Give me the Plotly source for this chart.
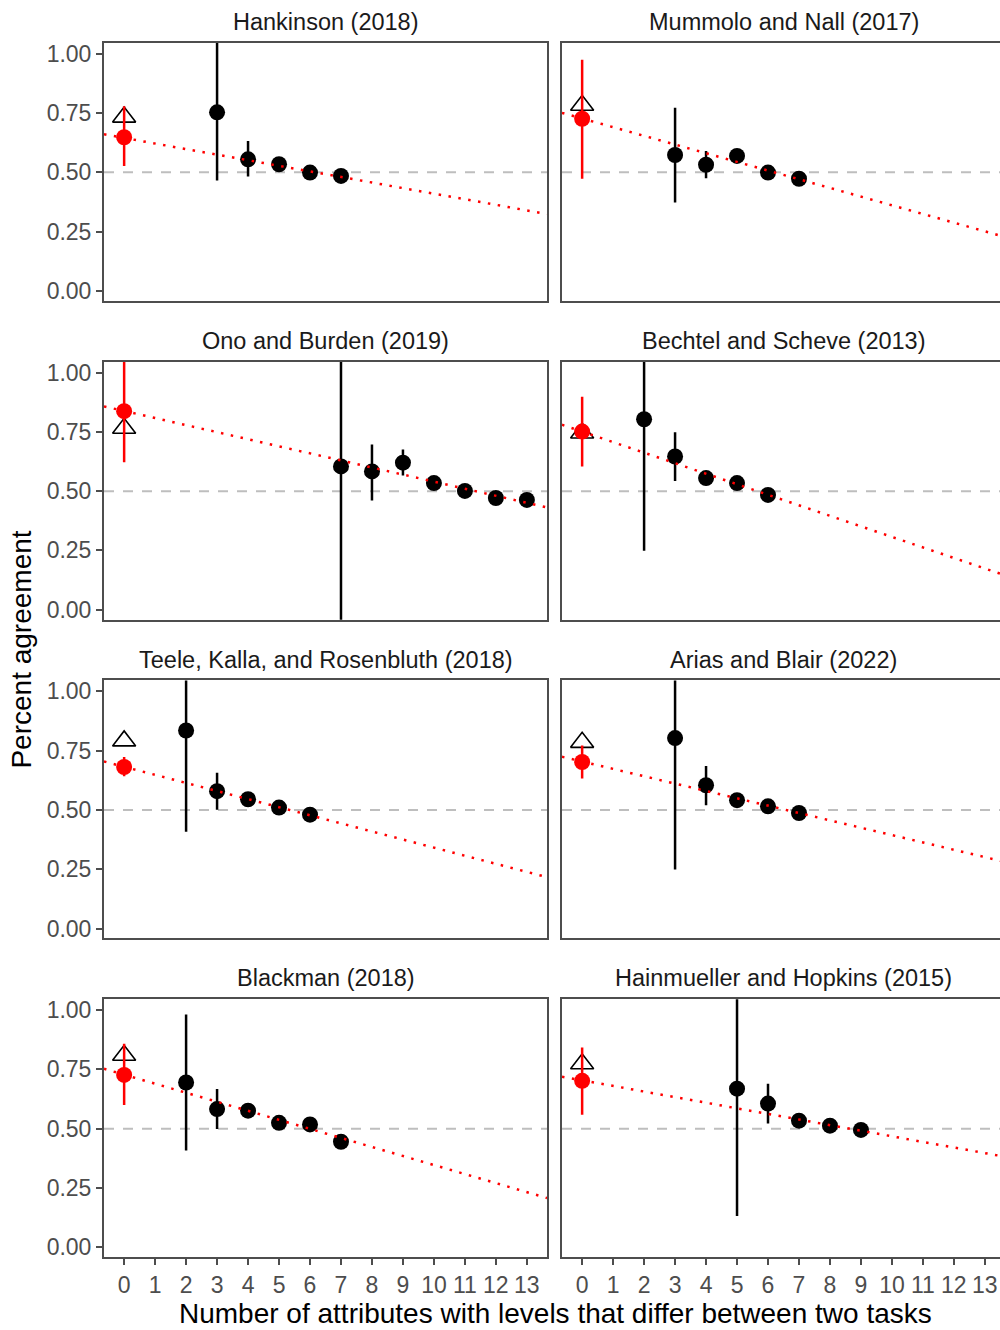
import plotly.graph_objects as go

# ---------------- data ----------------
titles = ["Hankinson (2018)", "Mummolo and Nall (2017)",
          "Ono and Burden (2019)", "Bechtel and Scheve (2013)",
          "Teele, Kalla, and Rosenbluth (2018)", "Arias and Blair (2022)",
          "Blackman (2018)", "Hainmueller and Hopkins (2015)"]

# red point at x = 0 (with interval)
red_y = [0.648, 0.726, 0.837, 0.751, 0.681, 0.702, 0.727, 0.702]
red_lo = [0.527, 0.473, 0.622, 0.604, 0.642, 0.632, 0.600, 0.559]
red_hi = [0.779, 0.975, 1.100, 0.898, 0.723, 0.772, 0.858, 0.842]

# open triangle at x = 0
tri_y = [0.733, 0.783, 0.765, 0.745, 0.791, 0.785, 0.810, 0.774]

# black points with intervals
black_x = [[3, 4, 5, 6, 7],
           [3, 4, 5, 6, 7],
           [7, 8, 9, 10, 11, 12, 13],
           [2, 3, 4, 5, 6],
           [2, 3, 4, 5, 6],
           [3, 4, 5, 6, 7],
           [2, 3, 4, 5, 6, 7],
           [5, 6, 7, 8, 9]]
black_y = [[0.753, 0.555, 0.534, 0.499, 0.485],
           [0.573, 0.532, 0.569, 0.499, 0.473],
           [0.604, 0.583, 0.620, 0.534, 0.501, 0.471, 0.463],
           [0.803, 0.646, 0.555, 0.534, 0.484],
           [0.835, 0.579, 0.545, 0.510, 0.480],
           [0.803, 0.604, 0.541, 0.515, 0.487],
           [0.695, 0.583, 0.576, 0.525, 0.518, 0.445],
           [0.669, 0.606, 0.534, 0.513, 0.495]]
black_lo = [[0.466, 0.482, 0.519, 0.485, 0.471],
            [0.373, 0.475, 0.553, 0.485, 0.459],
            [-0.300, 0.461, 0.566, 0.520, 0.488, 0.458, 0.450],
            [0.249, 0.543, 0.525, 0.518, 0.470],
            [0.408, 0.501, 0.530, 0.497, 0.467],
            [0.249, 0.520, 0.527, 0.503, 0.474],
            [0.408, 0.499, 0.562, 0.512, 0.505, 0.432],
            [0.132, 0.522, 0.520, 0.500, 0.482]]
black_hi = [[1.300, 0.632, 0.549, 0.513, 0.499],
            [0.772, 0.590, 0.585, 0.513, 0.487],
            [1.300, 0.697, 0.676, 0.548, 0.514, 0.484, 0.476],
            [1.300, 0.748, 0.585, 0.550, 0.498],
            [1.300, 0.657, 0.560, 0.523, 0.493],
            [1.300, 0.685, 0.555, 0.527, 0.500],
            [0.982, 0.667, 0.590, 0.538, 0.531, 0.458],
            [1.300, 0.690, 0.548, 0.526, 0.508]]

# fitted (dotted red) line
line_intercept = [0.645, 0.727, 0.838, 0.751, 0.682, 0.704, 0.728, 0.704]
line_slope = [-0.0235, -0.0366, -0.0298, -0.0444, -0.0341, -0.0310, -0.0381, -0.0236]

x_ticks = list(range(0, 14))
y_ticks = [0, 0.25, 0.5, 0.75, 1.0]
y_tick_labels = ["0.00", "0.25", "0.50", "0.75", "1.00"]
ref_line = 0.5

# ---------------- layout geometry ----------------
W, H = 1000, 1330
FONT = "Liberation Sans, Arial, Helvetica, sans-serif"
XMIN, XMAX = -0.65, 13.65
YMIN, YMAX = -0.042, 1.046
col_px = [(104, 547), (562, 1005)]
row_top = [41, 361, 681, 1001]
panel_h = 259
TICK_FS = 23
STRIP_FS = 23.5
TITLE_FS = 28

fig = go.Figure()
layout = dict(
    width=W, height=H,
    margin=dict(l=0, r=0, t=0, b=0),
    paper_bgcolor="white", plot_bgcolor="white",
    showlegend=False,
    font=dict(family=FONT),
)
annotations = []

for i in range(8):
    r, c = divmod(i, 2)
    k = "" if i == 0 else str(i + 1)
    xa, ya = "x" + k, "y" + k
    x0, x1 = col_px[c]
    ppu = (x1 - x0) / (XMAX - XMIN)
    x1c = min(x1, W)
    xmax_c = XMIN + (x1c - x0) / ppu
    top = row_top[r]
    bot = top + panel_h

    layout["xaxis" + k] = dict(
        domain=[x0 / W, x1c / W], range=[XMIN, xmax_c], anchor=ya,
        showgrid=False, zeroline=False,
        showline=True, linecolor="#4D4D4D", linewidth=2, mirror=True,
        tickmode="array", tickvals=x_ticks, ticktext=[str(t) for t in x_ticks],
        ticks="outside" if r == 3 else "", ticklen=6, tickwidth=2, tickcolor="#4D4D4D",
        showticklabels=(r == 3),
        tickfont=dict(size=TICK_FS, color="#4D4D4D", family=FONT),
    )
    layout["yaxis" + k] = dict(
        domain=[1 - bot / H, 1 - top / H], range=[YMIN, YMAX], anchor=xa,
        showgrid=False, zeroline=False,
        showline=True, linecolor="#4D4D4D", linewidth=2, mirror=(c == 0),
        tickmode="array", tickvals=y_ticks, ticktext=y_tick_labels,
        ticks="outside" if c == 0 else "", ticklen=6, tickwidth=2, tickcolor="#4D4D4D",
        showticklabels=(c == 0),
        tickfont=dict(size=TICK_FS, color="#4D4D4D", family=FONT),
    )

    # reference dashed line at 0.5
    fig.add_trace(go.Scatter(x=[XMIN, XMAX], y=[ref_line, ref_line], mode="lines",
                             line=dict(color="#BEBEBE", width=2, dash="10px,9px"),
                             xaxis=xa, yaxis=ya, hoverinfo="skip"))
    # open triangle
    fig.add_trace(go.Scatter(x=[0], y=[tri_y[i]], mode="markers",
                             marker=dict(symbol="triangle-up-open", size=20, color="black",
                                         line=dict(width=1.6, color="black")),
                             xaxis=xa, yaxis=ya))
    # black points with intervals
    by = black_y[i]
    fig.add_trace(go.Scatter(
        x=black_x[i], y=by, mode="markers",
        marker=dict(color="black", size=16),
        error_y=dict(type="data", symmetric=False,
                     array=[h - y for h, y in zip(black_hi[i], by)],
                     arrayminus=[y - l for l, y in zip(black_lo[i], by)],
                     color="black", thickness=2.5, width=0),
        xaxis=xa, yaxis=ya))
    # red point at zero
    fig.add_trace(go.Scatter(
        x=[0], y=[red_y[i]], mode="markers",
        marker=dict(color="#FF0000", size=16),
        error_y=dict(type="data", symmetric=False,
                     array=[red_hi[i] - red_y[i]], arrayminus=[red_y[i] - red_lo[i]],
                     color="#FF0000", thickness=2.5, width=0),
        xaxis=xa, yaxis=ya))
    # fitted dotted line
    lx = [XMIN, XMAX]
    ly = [line_intercept[i] + line_slope[i] * v for v in lx]
    fig.add_trace(go.Scatter(x=lx, y=ly, mode="lines",
                             line=dict(color="#FF0000", width=2.5, dash="2.5px,7.5px"),
                             xaxis=xa, yaxis=ya, hoverinfo="skip"))

    # strip title
    annotations.append(dict(
        text=titles[i], x=((x0 + x1) / 2) / W, y=1 - (top - 21) / H,
        xref="paper", yref="paper", xanchor="center", yanchor="middle",
        showarrow=False, font=dict(size=STRIP_FS, color="#1A1A1A", family=FONT)))

annotations.append(dict(
    text="Percent agreement", x=22 / W, y=1 - 650 / H, xref="paper", yref="paper",
    xanchor="center", yanchor="middle", textangle=-90, showarrow=False,
    font=dict(size=TITLE_FS, color="black", family=FONT)))
annotations.append(dict(
    text="Number of attributes with levels that differ between two tasks",
    x=555 / W, y=1 - 1316 / H, xref="paper", yref="paper",
    xanchor="center", yanchor="middle", showarrow=False,
    font=dict(size=TITLE_FS, color="black", family=FONT)))

layout["annotations"] = annotations
fig.update_layout(**layout)
fig.write_html(
    "out.html",
    config={"displayModeBar": False},
    post_script="document.body.style.margin='0px';document.body.style.padding='0px';"
                "document.documentElement.style.overflow='hidden';",
)
